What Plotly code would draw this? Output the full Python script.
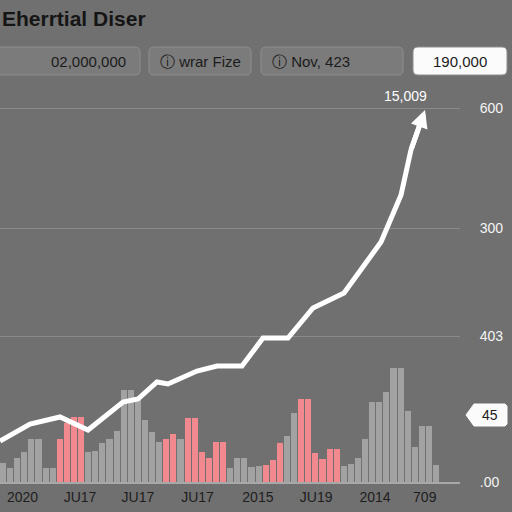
import plotly.graph_objects as go

# ---------------- data ----------------
bar_values = [19, 14, 24, 30, 43, 43, 14, 14, 43, 59, 65, 65, 30, 31, 39, 43, 51, 92,
              92, 82, 62, 50, 40, 43, 48, 43, 64, 64, 30, 24, 40, 40, 14, 24, 24, 15,
              16, 17, 22, 39, 46, 69, 83, 83, 29, 23, 33, 33, 16, 18, 24, 43, 80, 80,
              90, 114, 114, 71, 35, 56, 56, 17]
bar_highlight = [0, 0, 0, 0, 0, 0, 0, 0, 1, 1, 1, 1, 0, 0, 0, 0, 0, 0,
                 0, 0, 0, 0, 0, 1, 1, 0, 1, 1, 1, 1, 1, 1, 0, 0, 0, 0,
                 0, 1, 1, 1, 0, 0, 1, 1, 1, 1, 1, 1, 0, 0, 0, 0, 0, 0,
                 0, 0, 0, 0, 0, 0, 0, 0]
bar_index = list(range(len(bar_values)))

line_x = [-0.42, 3.80, 8.03, 11.97, 16.90, 19.01, 21.69, 23.24, 27.32, 30.14,
          33.66, 36.62, 40.14, 43.66, 48.03, 53.24, 56.06, 57.46]
line_y = [41, 58, 65, 52, 80, 83, 100, 98, 111, 116,
          116, 144, 144, 174, 189, 240, 287, 332]
arrow_tip = (59.44, 372)
line_label = "15,009"

x_tick_pos = [2.75, 10.85, 19.0, 27.4, 35.9, 44.1, 52.4, 59.4]
x_tick_labels = ["2020", "JU17", "JU17", "JU17", "2015", "JU19", "2014", "709"]
y_tick_pos = [374, 254, 146, 0]
y_tick_labels = ["600", "300", "403", ".00"]

title_text = "Eherrtial Diser"
button_texts = ["02,000,000", "ⓘ wrar Fize", "ⓘ Nov, 423", "190,000"]
tag_text = "45"

# ---------------- layout helpers ----------------
W, H = 512, 512
L, R, T, B = 0, 52, 100, 30
PW, PH = W - L - R, H - T - B
BG = "#707070"
FONT = "Liberation Sans, Arial, sans-serif"


def px(xp):
    return (xp - L) / PW


def py(yp):
    return (H - B - yp) / PH


def rrect(x0, y0, x1, y1, r):
    a0, a1 = px(x0), px(x1)
    b0, b1 = py(y0), py(y1)
    rx, ry = r / PW, r / PH
    return (f"M{a0+rx},{b0} L{a1-rx},{b0} Q{a1},{b0} {a1},{b0-ry} "
            f"L{a1},{b1+ry} Q{a1},{b1} {a1-rx},{b1} L{a0+rx},{b1} "
            f"Q{a0},{b1} {a0},{b1+ry} L{a0},{b0-ry} Q{a0},{b0} {a0+rx},{b0} Z")


bar_colors = ["#f2898f" if h else "#a2a2a2" for h in bar_highlight]

# extend the drawn line part-way along the final arrow segment so shaft joins smoothly
ext_x = line_x[-1] + 0.6 * (arrow_tip[0] - line_x[-1])
ext_y = line_y[-1] + 0.6 * (arrow_tip[1] - line_y[-1])

fig = go.Figure()
fig.add_trace(go.Bar(x=bar_index, y=bar_values, width=0.85,
                     marker=dict(color=bar_colors, line=dict(width=0)),
                     hoverinfo="skip"))
fig.add_trace(go.Scatter(x=line_x + [ext_x], y=line_y + [ext_y], mode="lines",
                         line=dict(color="#ffffff", width=5),
                         hoverinfo="skip"))

fig.add_annotation(x=arrow_tip[0], y=arrow_tip[1], ax=line_x[-1], ay=line_y[-1],
                   xref="x", yref="y", axref="x", ayref="y", text="",
                   showarrow=True, arrowhead=2, arrowsize=0.7, arrowwidth=5,
                   arrowcolor="#ffffff", standoff=0, startstandoff=0)

# title
fig.add_annotation(x=px(0), y=py(18), xref="paper", yref="paper", text=f"<b>{title_text}</b>",
                   showarrow=False, xanchor="left", yanchor="middle",
                   font=dict(family=FONT, size=21, color="#151515"))

# buttons
shapes = []
boxes = [(-10, 47, 140, 75, "#7b7b7b"), (149, 47, 251, 75, "#7b7b7b"),
         (261, 47, 403, 75, "#7b7b7b"), (413, 47, 507, 75, "#fbfbfb")]
for (x0, y0, x1, y1, c) in boxes:
    shapes.append(dict(type="path", path=rrect(x0, y0, x1, y1, 5), xref="paper", yref="paper",
                       fillcolor=c, line=dict(color="#8e8e8e", width=1), layer="above"))
text_pos = [(128, "right"), (158, "left"), (270, "left"), (460, "center")]
for t, (xp, anc) in zip(button_texts, text_pos):
    fig.add_annotation(x=px(xp), y=py(61.5), xref="paper", yref="paper", text=t,
                       showarrow=False, xanchor=anc, yanchor="middle",
                       font=dict(family=FONT, size=15, color="#1b1b1b"))

# line label
fig.add_annotation(x=px(405), y=py(96), xref="paper", yref="paper", text=line_label,
                   showarrow=False, xanchor="center", yanchor="middle",
                   font=dict(family=FONT, size=14, color="#ffffff"))

# tag "45"
tag_path = (f"M{px(466)},{py(415)} L{px(474)},{py(404)} L{px(505)},{py(404)} "
            f"L{px(507)},{py(406)} L{px(507)},{py(424)} L{px(505)},{py(426)} "
            f"L{px(474)},{py(426)} Z")
shapes.append(dict(type="path", path=tag_path, xref="paper", yref="paper",
                   fillcolor="#fbfbfb", line=dict(color="#fbfbfb", width=1), layer="above"))
fig.add_annotation(x=px(490), y=py(415), xref="paper", yref="paper", text=tag_text,
                   showarrow=False, xanchor="center", yanchor="middle",
                   font=dict(family=FONT, size=14, color="#1b1b1b"))

fig.update_layout(
    width=W, height=H, margin=dict(l=L, r=R, t=T, b=B),
    paper_bgcolor=BG, plot_bgcolor=BG, showlegend=False,
    bargap=0, shapes=shapes,
    xaxis=dict(range=[-0.4225, 64.366], tickvals=x_tick_pos, ticktext=x_tick_labels,
               showgrid=False, zeroline=False, showline=True, linecolor="#a8a8a8",
               linewidth=2, ticks="outside", ticklen=1, tickcolor="rgba(0,0,0,0)",
               tickfont=dict(family=FONT, size=14, color="#1e1e1e")),
    yaxis=dict(range=[0, PH], tickvals=y_tick_pos, ticktext=y_tick_labels, side="right",
               showgrid=True, gridcolor="#8a8a8a", gridwidth=1, zeroline=False,
               ticks="outside", ticklen=16, tickcolor="rgba(0,0,0,0)",
               tickfont=dict(family=FONT, size=14, color="#f4f4f4")),
)

fig.write_html("out.html")
